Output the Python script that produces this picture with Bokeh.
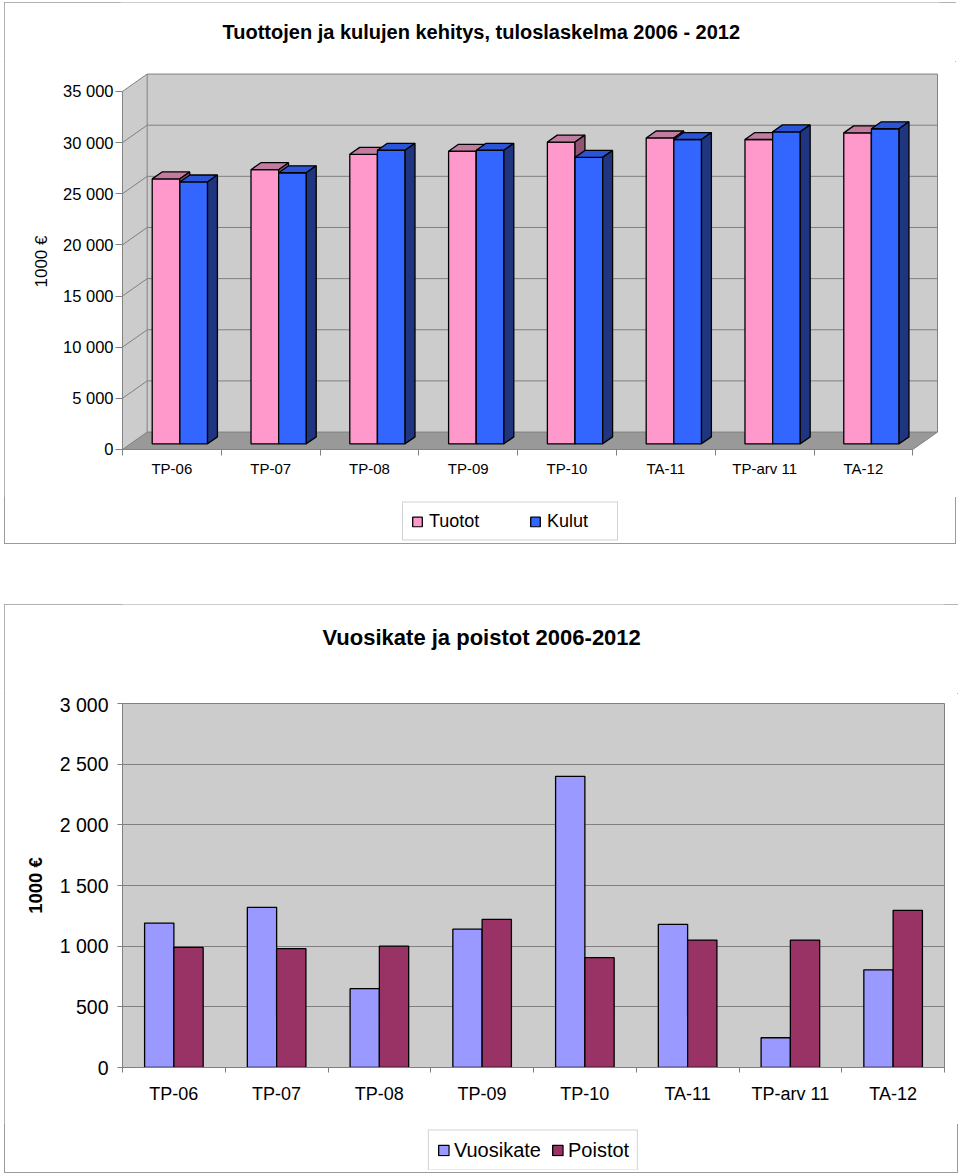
from bokeh.plotting import figure
from bokeh.models import (FixedTicker, LinearAxis, Range1d, Legend, LegendItem,
                          Spacer, Grid)
from bokeh.core.properties import value
from bokeh.layouts import column, row
from bokeh.embed import file_html
from bokeh.resources import INLINE

FONT = "Liberation Sans"

# ---------------- data ----------------
categories = ["TP-06", "TP-07", "TP-08", "TP-09", "TP-10", "TA-11", "TP-arv 11", "TA-12"]

tuotot = [25900, 26800, 28300, 28600, 29500, 29900, 29750, 30400]
kulut = [25600, 26500, 28700, 28700, 28000, 29750, 30500, 30800]
top_ticks = [0, 5000, 10000, 15000, 20000, 25000, 30000, 35000]
top_tick_labels = ["0", "5 000", "10 000", "15 000", "20 000", "25 000", "30 000", "35 000"]

vuosikate = [1190, 1320, 650, 1140, 2400, 1180, 245, 805]
poistot = [990, 980, 1000, 1220, 905, 1050, 1050, 1295]
bottom_ticks = [0, 500, 1000, 1500, 2000, 2500, 3000]
bottom_tick_labels = ["0", "500", "1 000", "1 500", "2 000", "2 500", "3 000"]

title1 = "Tuottojen ja kulujen kehitys, tuloslaskelma 2006 - 2012"
title2 = "Vuosikate ja poistot 2006-2012"
ylabel = "1000 €"
series1 = ["Tuotot", "Kulut"]
series2 = ["Vuosikate", "Poistot"]

# ---------------- styles ----------------
GRID = "#808080"
WALL = "#CCCCCC"
FLOOR = "#999999"
PINK, PINK_TOP, PINK_SIDE = "#FF99CC", "#C27C9F", "#8E5470"
BLUE, BLUE_TOP, BLUE_SIDE = "#3366FF", "#2B55D6", "#1F3580"
LAV, MAROON = "#9999FF", "#993366"
BOX = {"outline": "1px solid #9a9a9a", "outline-offset": "-1px"}

n = len(categories)
DX, DY = 0.25, 1700.0      # depth of the 3D floor (x in categories, y in value units)
F0, FD = 0.324, 0.40       # bar front depth / bar depth (fraction of floor depth)
BW, OFF = 0.28, 0.22
YMAX = top_ticks[-1]
centers = [i + 0.5 for i in range(n)]
bounds = [float(i) for i in range(n + 1)]


def title_fig(w, h, bl, br, text, size, left_x, cy_from_top):
    # same side borders as the chart below it, so both frames line up in the column
    fw = w - bl - br
    tf = figure(width=w, height=h, x_range=Range1d(0, fw), y_range=Range1d(0, h),
                output_backend="svg", toolbar_location=None, x_axis_type=None,
                y_axis_type=None, min_border_left=bl, min_border_right=br,
                min_border_top=0, min_border_bottom=0)
    tf.outline_line_color = None
    tf.text(x=[left_x - bl], y=[h - cy_from_top], text=[text], text_align="left",
            text_baseline="middle", text_font=value(FONT), text_font_size=size,
            text_font_style="bold", text_color="black")
    return tf


def legend_fig(w, h, labels, colors, font_size, padding, spacing, glyph, standoff, label_width):
    lf = figure(width=w, height=h, x_range=Range1d(0, 1), y_range=Range1d(0, 1),
                output_backend="svg", toolbar_location=None, x_axis_type=None,
                y_axis_type=None, min_border=0)
    lf.outline_line_color = None
    items = []
    for lab, col in zip(labels, colors):
        # swatch renderer: its single box lies outside the visible range, only the legend shows it
        r = lf.quad(left=[5], right=[6], top=[6], bottom=[5], fill_color=col,
                    line_color="black", line_width=1.3)
        items.append(LegendItem(label=lab, renderers=[r]))
    leg = Legend(items=items, location="center", orientation="horizontal",
                 padding=padding, spacing=spacing, label_standoff=standoff, margin=0,
                 glyph_width=glyph, glyph_height=glyph, label_width=label_width,
                 label_text_font=FONT, label_text_font_size=font_size,
                 label_text_color="black",
                 border_line_color="#a8a8a8", border_line_width=1,
                 background_fill_color="white", background_fill_alpha=1)
    lf.add_layout(leg)
    return lf


# ================= chart 1 (pseudo 3D) =================
t1 = title_fig(952, 59, 116, 17, title1, "20px", 218, 29)

p1 = figure(width=952, height=436, x_range=Range1d(-0.02, n + DX + 0.02),
            y_range=Range1d(-200, 36949), output_backend="svg", toolbar_location=None,
            x_axis_type=None, y_axis_type=None,
            min_border_left=116, min_border_right=17, min_border_top=10, min_border_bottom=46)
p1.outline_line_color = None
p1.background_fill_color = "white"
p1.border_fill_color = "white"

# walls and floor
p1.patch([0, DX, DX, 0], [0, DY, YMAX + DY, YMAX], fill_color=WALL, line_color=None)
p1.quad(left=DX, right=n + DX, bottom=DY, top=YMAX + DY, fill_color=WALL, line_color=None)
p1.patch([0, n, n + DX, DX], [0, 0, DY, DY], fill_color=FLOOR, line_color=GRID, line_width=1)

gv = top_ticks[1:]
p1.segment(x0=[0] * len(gv), y0=gv, x1=[DX] * len(gv), y1=[v + DY for v in gv],
           line_color=GRID, line_width=1)
p1.segment(x0=[DX] * len(gv), y0=[v + DY for v in gv], x1=[n + DX] * len(gv),
           y1=[v + DY for v in gv], line_color=GRID, line_width=1)
p1.segment(x0=[0, DX, n + DX], y0=[0, DY, DY], x1=[0, DX, n + DX],
           y1=[YMAX, YMAX + DY, YMAX + DY], line_color=GRID, line_width=1)


def bars3d(vals, s, c_front, c_top, c_side):
    x0 = [i + OFF + s * BW + F0 * DX for i in range(n)]
    x1 = [x + BW for x in x0]
    yb = F0 * DY
    yt = [v + F0 * DY for v in vals]
    ddx, ddy = FD * DX, FD * DY
    p1.quad(left=x0, right=x1, bottom=yb, top=yt, fill_color=c_front,
            line_color="black", line_width=1.3)
    p1.patches([[a, b, b + ddx, a + ddx] for a, b in zip(x0, x1)],
               [[t, t, t + ddy, t + ddy] for t in yt],
               fill_color=c_top, line_color="black", line_width=1.3)
    p1.patches([[b, b + ddx, b + ddx, b] for b in x1],
               [[yb, yb + ddy, t + ddy, t] for t in yt],
               fill_color=c_side, line_color="black", line_width=1.3)


bars3d(tuotot, 0, PINK, PINK_TOP, PINK_SIDE)
bars3d(kulut, 1, BLUE, BLUE_TOP, BLUE_SIDE)

yax1 = LinearAxis(ticker=FixedTicker(ticks=top_ticks),
                  major_label_overrides=dict(zip(top_ticks, top_tick_labels)),
                  axis_line_color=None, major_tick_line_color=GRID,
                  major_tick_out=5, major_tick_in=2, minor_tick_line_color=None,
                  major_label_text_font=FONT, major_label_text_font_size="16.5px",
                  major_label_text_color="black", major_label_standoff=2,
                  axis_label=ylabel, axis_label_text_font=FONT,
                  axis_label_text_font_size="17px", axis_label_text_font_style="normal",
                  axis_label_text_color="black", axis_label_standoff=9)
p1.add_layout(yax1, "left")

xax1 = LinearAxis(ticker=FixedTicker(ticks=centers, minor_ticks=bounds),
                  major_label_overrides=dict(zip(centers, categories)),
                  axis_line_color=None, major_tick_line_color=None, major_tick_out=0,
                  major_tick_in=0, minor_tick_line_color=GRID, minor_tick_out=4,
                  minor_tick_in=2, major_label_standoff=4,
                  major_label_text_font=FONT, major_label_text_font_size="15px",
                  major_label_text_color="black")
p1.add_layout(xax1, "below")

leg1 = legend_fig(222, 40, series1, [PINK, BLUE], "18px", 8, 38, 12, 6, 62)
box1 = column(t1, p1, Spacer(height=4), row(Spacer(width=395), leg1), Spacer(height=3),
              styles=BOX)

# ================= chart 2 (2D clustered) =================
BW2 = 0.285
t2 = title_fig(954, 89, 118, 14, title2, "22px", 318, 33)

p2 = figure(width=954, height=431, x_range=Range1d(0, n), y_range=Range1d(0, bottom_ticks[-1]),
            output_backend="svg", toolbar_location=None,
            x_axis_type=None, y_axis_type=None,
            min_border_left=118, min_border_right=14, min_border_top=10, min_border_bottom=57)
p2.background_fill_color = WALL
p2.border_fill_color = "white"
p2.outline_line_color = GRID

p2.add_layout(Grid(dimension=1, ticker=FixedTicker(ticks=bottom_ticks),
                   grid_line_color=GRID, grid_line_width=1))

p2.vbar(x=[i + 0.5 - BW2 / 2 for i in range(n)], width=BW2, bottom=0, top=vuosikate,
        fill_color=LAV, line_color="black", line_width=1.3)
p2.vbar(x=[i + 0.5 + BW2 / 2 for i in range(n)], width=BW2, bottom=0, top=poistot,
        fill_color=MAROON, line_color="black", line_width=1.3)

yax2 = LinearAxis(ticker=FixedTicker(ticks=bottom_ticks),
                  major_label_overrides=dict(zip(bottom_ticks, bottom_tick_labels)),
                  axis_line_color=GRID, major_tick_line_color=GRID,
                  major_tick_out=5, major_tick_in=0, minor_tick_line_color=None,
                  major_label_text_font=FONT, major_label_text_font_size="19.5px",
                  major_label_text_color="black", major_label_standoff=9,
                  axis_label=ylabel, axis_label_text_font=FONT,
                  axis_label_text_font_size="18.5px", axis_label_text_font_style="bold",
                  axis_label_text_color="black", axis_label_standoff=11)
p2.add_layout(yax2, "left")

xax2 = LinearAxis(ticker=FixedTicker(ticks=centers, minor_ticks=bounds),
                  major_label_overrides=dict(zip(centers, categories)),
                  axis_line_color=GRID, major_tick_line_color=None, major_tick_out=0,
                  major_tick_in=0, minor_tick_line_color=GRID, minor_tick_out=5,
                  minor_tick_in=0, major_label_standoff=11,
                  major_label_text_font=FONT, major_label_text_font_size="18px",
                  major_label_text_color="black")
p2.add_layout(xax2, "below")

leg2 = legend_fig(222, 41, series2, [LAV, MAROON], "20px", 8, 10, 13, 4, 20)
box2 = column(t2, p2, Spacer(height=5), row(Spacer(width=418), leg2), Spacer(height=3),
              styles=BOX)

layout = column(Spacer(height=2), row(Spacer(width=4), box1), Spacer(height=60),
                row(Spacer(width=4), box2))
open("out.html", "w").write(file_html(layout, INLINE))
